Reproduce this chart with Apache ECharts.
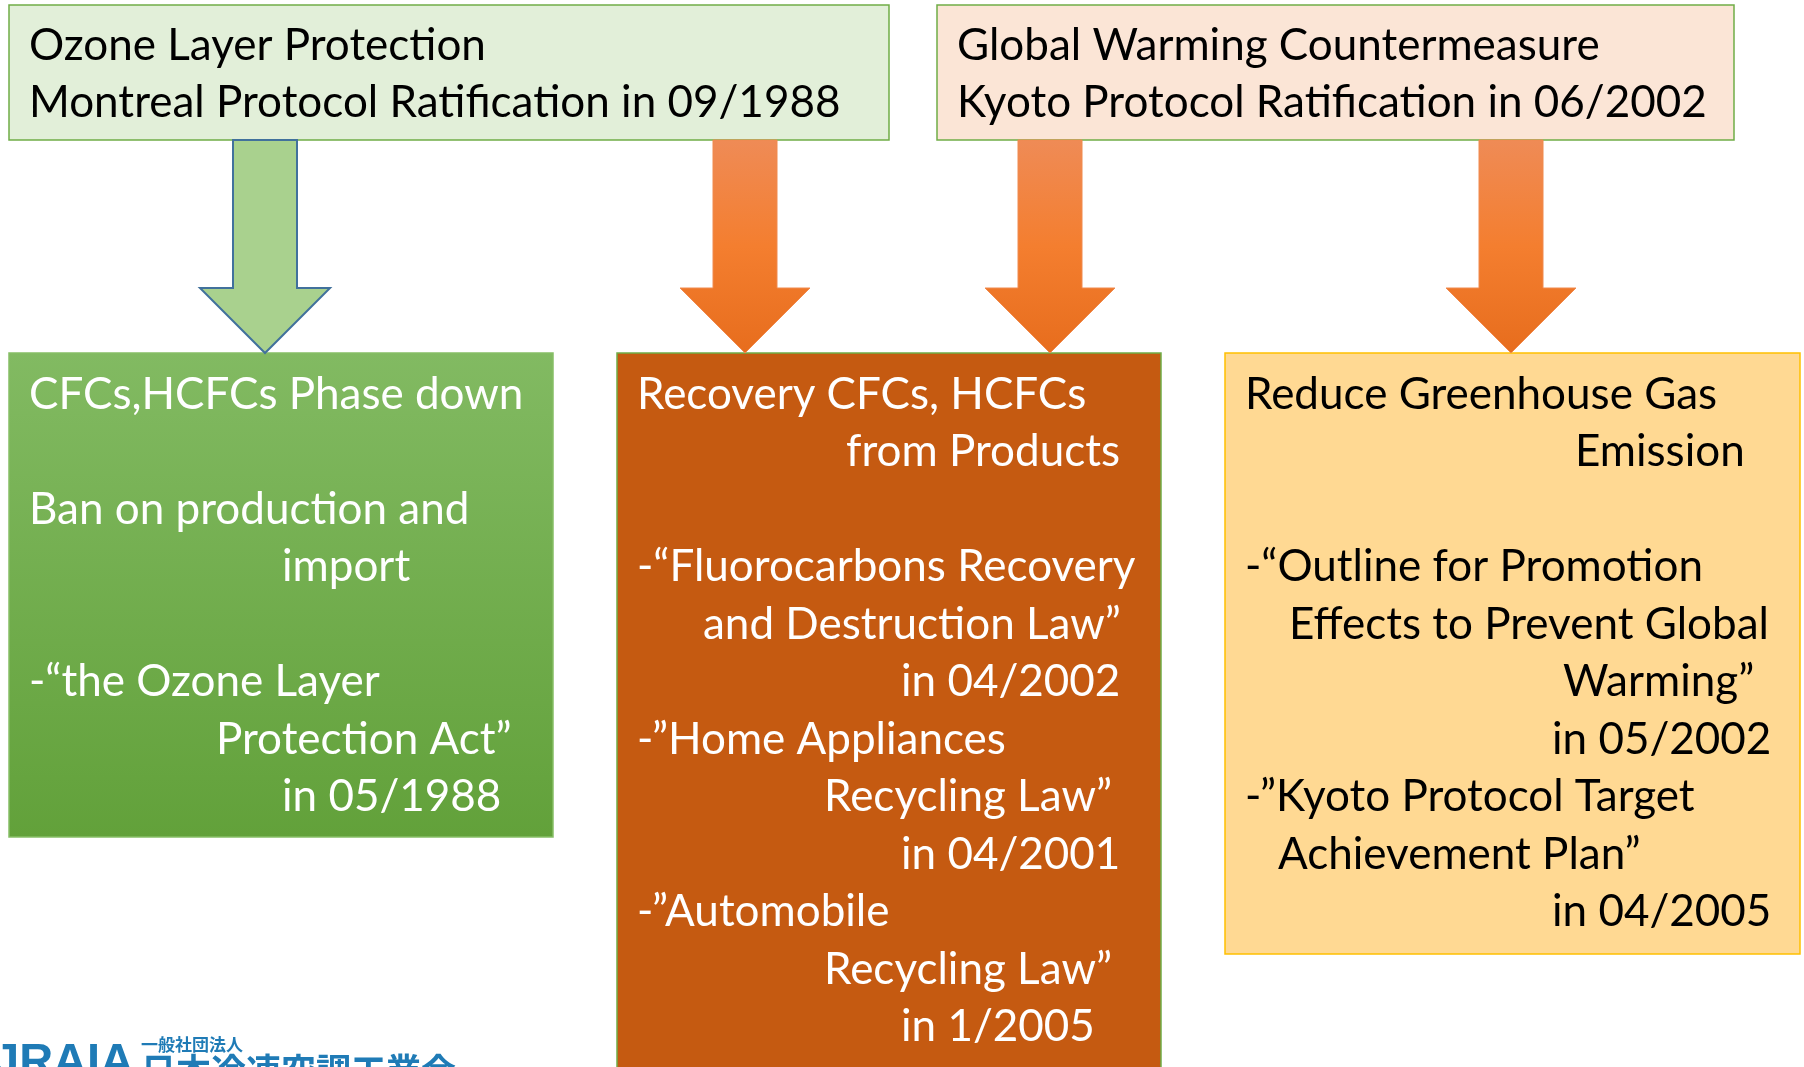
<!DOCTYPE html>
<html>
<head>
<meta charset="utf-8">
<script src="https://cdn.jsdelivr.net/npm/echarts@6/dist/echarts.min.js"></script>
<style>
html,body{margin:0;padding:0;background:#fff;}
#chart{width:1804px;height:1067px;}
</style>
</head>
<body>
<div id="chart"></div>
<script>
// ---- content ----
const topLeftLines = ["Ozone Layer Protection", "Montreal Protocol Ratification in 09/1988"];
const topRightLines = ["Global Warming Countermeasure", "Kyoto Protocol Ratification in 06/2002"];
const ozoneLines = ["CFCs,HCFCs Phase down", "", "Ban on production and", "import", "", "-\u201Cthe Ozone Layer", "Protection Act\u201D", "in 05/1988"];
const recoveryLines = ["Recovery CFCs, HCFCs", "from Products", "", "-\u201CFluorocarbons Recovery", "and Destruction Law\u201D", "in 04/2002", "-\u201DHome Appliances", "Recycling Law\u201D", "in 04/2001", "-\u201DAutomobile", "Recycling Law\u201D", "in 1/2005"];
const warmingLines = ["Reduce Greenhouse Gas", "Emission", "", "-\u201COutline for Promotion", "Effects to Prevent Global", "Warming\u201D", "in 05/2002", "-\u201DKyoto Protocol Target", "Achievement Plan\u201D", "in 04/2005"];
const logoName = "JRAIA";
const logoSub = "一般社団法人";
const logoMain = "日本冷凍空調工業会";

// ---- layout ----
const FS = 44;
const FONT = FS + 'px Lato, "Noto Sans", sans-serif';
const MID = 0.30 * FS; // baseline offset from middle
const ozoneX = [29, 0, 29, 282, 0, 29, 216, 282];
const recoveryX = [637, 846, 0, 637, 703, 901, 637, 824, 901, 637, 824, 901];
const warmingX = [1245, 1575, 0, 1245, 1289, 1563, 1552, 1245, 1278, 1552];
const BASE0 = 408, PITCH = 57.5;

const g = [];
function rect(x, y, w, h, fill, stroke, lw) {
  g.push({type: 'rect', shape: {x: x, y: y, width: w, height: h},
    style: {fill: fill, stroke: stroke, lineWidth: lw || 1.5}});
}
function text(str, x, baseline, color, font) {
  if (!str) return;
  g.push({type: 'text', x: x, y: baseline - MID,
    style: {text: str, fill: color, font: font || FONT, textAlign: 'left', textVerticalAlign: 'middle'}});
}
function arrow(cx, fill, stroke, lw) {
  const top = 140, headY = 288, tip = 353, sw = 32, hw = 65;
  g.push({type: 'polygon', shape: {points: [
    [cx - sw, top], [cx + sw, top], [cx + sw, headY], [cx + hw, headY],
    [cx, tip], [cx - hw, headY], [cx - sw, headY]]},
    style: {fill: fill, stroke: stroke, lineWidth: lw}});
}

// top boxes
rect(9, 5, 880, 135, '#e2efd9', '#70ad47', 1.5);
rect(937, 5, 797, 135, '#fbe5d6', '#70ad47', 1.5);
topLeftLines.forEach((s, i) => text(s, 29, 59 + 57 * i, '#000'));
topRightLines.forEach((s, i) => text(s, 957, 59 + 57 * i, '#000'));

// bottom boxes
rect(9, 353, 544, 484, new echarts.graphic.LinearGradient(0, 0, 0, 1, [
  {offset: 0, color: '#82ba62'}, {offset: 1, color: '#62a13a'}]), '#86be66', 1.5);
rect(617, 353, 544, 760, '#c55a11', '#70ad47', 1.5);
rect(1225, 353, 575, 601, '#ffd993', '#ffc000', 1.5);

ozoneLines.forEach((s, i) => text(s, ozoneX[i], BASE0 + PITCH * i, '#fff'));
recoveryLines.forEach((s, i) => text(s, recoveryX[i], BASE0 + PITCH * i, '#fff'));
warmingLines.forEach((s, i) => text(s, warmingX[i], BASE0 + PITCH * i, '#000'));

// arrows
const orangeGrad = () => new echarts.graphic.LinearGradient(0, 0, 0, 1, [
  {offset: 0, color: '#ef8b56'}, {offset: 0.5, color: '#f47e2f'}, {offset: 1, color: '#e76d1d'}]);
arrow(265, '#a9d18e', '#41719c', 2);
arrow(745, orangeGrad(), '#f08a4e', 1);
arrow(1050, orangeGrad(), '#f08a4e', 1);
arrow(1511, orangeGrad(), '#f08a4e', 1);

// logo
g.push({type: 'text', x: -7, y: 1040, style: {text: logoName, fill: '#1f7bb6',
  font: 'bold 47px "Liberation Sans", Arial, sans-serif', textVerticalAlign: 'top'}});
g.push({type: 'text', x: 141, y: 1036, style: {text: logoSub, fill: '#1f7bb6',
  font: 'bold 17px "Noto Sans CJK JP", sans-serif', textVerticalAlign: 'top'}});
g.push({type: 'text', x: 141, y: 1053, style: {text: logoMain, fill: '#1f7bb6',
  font: 'bold 35px "Noto Sans CJK JP", sans-serif', textVerticalAlign: 'top'}});

const chart = echarts.init(document.getElementById('chart'), null, {renderer: 'canvas'});
chart.setOption({backgroundColor: '#ffffff', animation: false, graphic: g});
</script>
</body>
</html>
